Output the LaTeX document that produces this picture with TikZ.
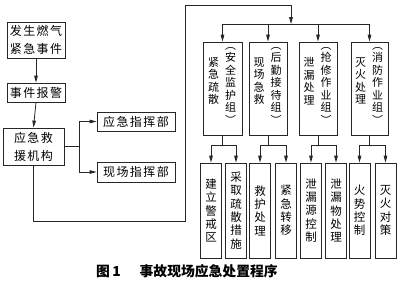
\documentclass[tikz,border=0pt]{standalone}
\usepackage{fontspec}
\newfontfamily\cjk{Noto Sans CJK SC}
\newfontfamily\cjkls{Noto Sans CJK SC}[LetterSpace=12]
\usetikzlibrary{arrows.meta}
\begin{document}
\begin{tikzpicture}[x=1pt,y=-1pt,
  box/.style={draw=black!85, line width=0.8pt, inner sep=0pt},
  htxt/.style={font=\cjkls\fontsize{12}{18}\selectfont, align=center},
  vtxt/.style={font=\cjk\fontsize{11.5}{13.3}\selectfont, align=center, inner sep=0pt},
  gtxt/.style={font=\cjk\fontsize{11}{12.5}\selectfont, align=center, inner sep=0pt},
  ln/.style={draw=black!85, line width=0.8pt},
  arr/.style={ln, -{Triangle[length=7pt,width=3.6pt]}}]
\useasboundingbox (0,0) rectangle (400,293);
% left column
\node[box, htxt, minimum width=58pt, minimum height=36pt] (e1) at (36,40) {发生燃气\\紧急事件};
\node[box, htxt, minimum width=58pt, minimum height=19pt] (e2) at (36,92.5) {事件报警};
\node[box, htxt, minimum width=61pt, minimum height=37pt] (e3) at (33.5,146.5) {应急救\\援机构};
\node[box, htxt, minimum width=78pt, minimum height=19pt] (c1) at (136,121.5) {应急指挥部};
\node[box, htxt, minimum width=78pt, minimum height=20pt] (c2) at (136,172) {现场指挥部};
\draw[arr] (e1.south) -- (e2.north);
\draw[arr] (e2.south) -- (e3.north);
\coordinate (j) at (79,146.5);
\draw[ln] (e3.east) -- (j);
\draw[arr] (j) |- (c1.west);
\draw[arr] (j) |- (c2.west);
% main route
\coordinate (k1) at (185,221);
\coordinate (k2) at (185,5);
\coordinate (k3) at (291,5);
\coordinate (bus) at (291,24);
\draw[ln] (e3.south) |- (k1) -- (k2) -- (k3);
\draw[arr] (k3) -- (bus);
% group boxes
\node[box, minimum width=39pt, minimum height=93pt] (g1) at (222.5,88.5) {};
\node[box, minimum width=38pt, minimum height=93pt] (g2) at (268,88.5) {};
\node[box, minimum width=38pt, minimum height=93pt] (g3) at (318,88.5) {};
\node[box, minimum width=37pt, minimum height=93pt] (g4) at (369.5,88.5) {};
\node[gtxt] (g1r) at ([xshift=8pt]g1.center |- 0,85.5) {︵\\安\\全\\监\\护\\组\\︶};
\node[gtxt] (g1l) at ([xshift=-9pt]g1.center |- 0,81) {紧\\急\\疏\\散};
\node[gtxt] (g2r) at ([xshift=8pt]g2.center |- 0,85.5) {︵\\后\\勤\\接\\待\\组\\︶};
\node[gtxt] (g2l) at ([xshift=-9pt]g2.center |- 0,81) {现\\场\\急\\救};
\node[gtxt] (g3r) at ([xshift=8pt]g3.center |- 0,85.5) {︵\\抢\\修\\作\\业\\组\\︶};
\node[gtxt] (g3l) at ([xshift=-9pt]g3.center |- 0,81) {泄\\漏\\处\\理};
\node[gtxt] (g4r) at ([xshift=8pt]g4.center |- 0,85.5) {︵\\消\\防\\作\\业\\组\\︶};
\node[gtxt] (g4l) at ([xshift=-9pt]g4.center |- 0,81) {灭\\火\\处\\理};
\draw[ln] (g1.north |- bus) -- (g4.north |- bus);
\foreach \g in {g1,g2,g3,g4} \draw[arr] (\g.north |- bus) -- (\g.north);
% bottom boxes
\foreach \n/\x/\t in {b1/211/{建\\立\\警\\戒\\区}, b2/236/{采\\取\\疏\\散\\措\\施}, b3/260/{救\\护\\处\\理}, b4/286/{紧\\急\\转\\移}, b5/311/{泄\\漏\\源\\控\\制}, b6/336/{泄\\漏\\物\\处\\理}, b7/359.5/{火\\势\\控\\制}, b8/385.5/{灭\\火\\对\\策}}
  \node[box, vtxt, minimum width=21pt, minimum height=95pt] (\n) at (\x,210.5) {\t};
\coordinate (m) at (0,145);
\foreach \g/\a/\b in {g1/b1/b2, g2/b3/b4, g3/b5/b6, g4/b7/b8} {
  \draw[ln] (\g.south) -- (\g.south |- m);
  \draw[ln] (\a.north |- m) -- (\b.north |- m);
  \draw[arr] (\a.north |- m) -- (\a.north);
  \draw[arr] (\b.north |- m) -- (\b.north);
}
% caption
\node[font=\cjk\bfseries\fontsize{13.8}{14}\selectfont, anchor=west, inner sep=0pt] (cap) at (96,271) {图\,1\hspace{19pt}事故现场应急处置程序};
\end{tikzpicture}
\end{document}
